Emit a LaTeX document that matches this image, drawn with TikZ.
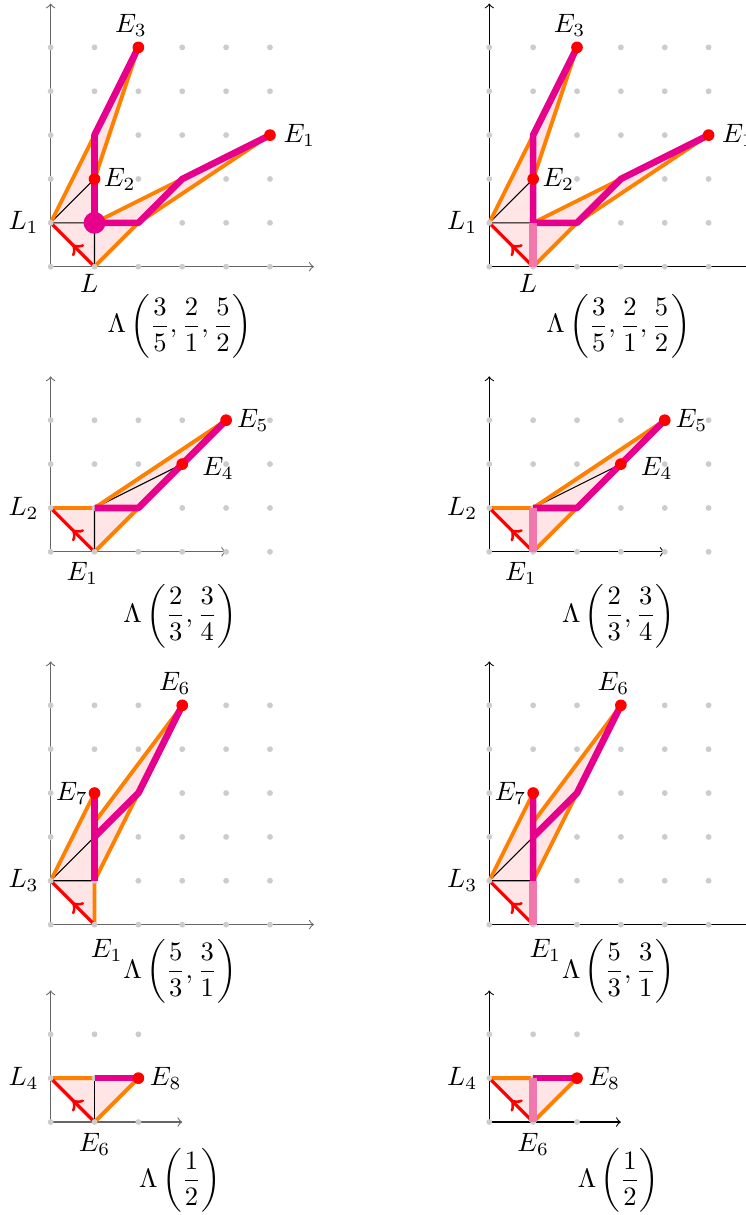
\documentclass[tikz,border=0pt]{standalone}
\usepackage{amsmath}
\usetikzlibrary{positioning, decorations.markings}

\definecolor{pathmag}{RGB}{230,0,140}
\definecolor{softpink}{RGB}{240,120,170}

\begin{document}
\begin{tikzpicture}[
        x=0.58cm, y=0.58cm,
        region/.style={fill=red!10},
        hull/.style={orange, line width=1.45pt, line join=round},
        spine/.style={pathmag, line width=2.5pt, line join=round},
        thinline/.style={black, line width=0.4pt},
        backedge/.style={red, line width=1.2pt, decoration={markings, mark=at position 0.5 with {\arrow{>}}}, postaction={decorate}},
        vert/.style={softpink, line width=2.9pt},
        axis/.style={->, line width=0.4pt},
        lattice/.style={fill=gray!40},
        endpt/.style={fill=red}
    ]
    \useasboundingbox (-1.155,-21.62) rectangle (15.85,6.08);

    \foreach \col/\axcol in {0/black!60, 10/black} {

    % first step
    \begin{scope}[shift={(\col,0)}]
        \coordinate (L) at (1,0);
        \coordinate (L1) at (0,1);
        \coordinate (C) at (1,1);
        \coordinate (E1) at (5,3);
        \coordinate (E2) at (1,2);
        \coordinate (E3) at (2,5);
        \coordinate (K1) at (1,3);
        \coordinate (K2) at (3,2);
        \coordinate (K3) at (2,1);
        \fill[region] (L1) -- (K1) -- (E3) -- (E2) -- (C) -- (K2) -- (E1) -- (K3) -- (L) -- cycle;
        \draw[axis, draw=\axcol] (0,0) -- (6,0);
        \draw[axis, draw=\axcol] (0,0) -- (0,6);
        \draw[thinline] (L1) -- (E2) (L1) -- (C) -- (L);
        \draw[hull] (L1) -- (K1) -- (E3) -- (E2) -- (C) -- (K2) -- (E1) -- (K3) -- (L);
        \draw[backedge] (L) -- (L1);
        \foreach \i in {0,...,5} \foreach \j in {0,...,5} \fill[lattice] (\i,\j) circle (1.1pt);
        \draw[spine] (E3) -- (K1) -- (C) -- (K3) -- (K2) -- (E1);
        \ifnum\col=0
            \fill[pathmag] (C) circle (4.1pt);
        \else
            \draw[vert] (L) -- (C);
        \fi
        \foreach \p in {E1,E2,E3} \fill[endpt] (\p) circle (2.2pt);
        \node (tL1) [left=1pt of L1] {$L_1$};
        \node (tL) [below=-0.5pt of L, xshift=-2pt] {$L$};
        \node (tE1) [right=1.6pt of E1] {$E_1$};
        \node (tE2) [right=0pt of E2] {$E_2$};
        \node (tE3) [above=0.5pt of E3, xshift=-2.8pt] {$E_3$};
        \node (cap1) at (2.95,-1.36) {$\displaystyle\Lambda\left(\frac{3}{5},\frac{2}{1},\frac{5}{2}\right)$};
    \end{scope}

    % second step
    \begin{scope}[shift={(\col,-6.5)}]
        \coordinate (E1) at (1,0);
        \coordinate (L2) at (0,1);
        \coordinate (C) at (1,1);
        \coordinate (E4) at (3,2);
        \coordinate (E5) at (4,3);
        \coordinate (K1) at (2,1);
        \fill[region] (L2) -- (C) -- (E5) -- (K1) -- (E1) -- cycle;
        \draw[axis, draw=\axcol] (0,0) -- (4,0);
        \draw[axis, draw=\axcol] (0,0) -- (0,4);
        \draw[thinline] (C) -- (E4) (C) -- (E1);
        \draw[hull] (L2) -- (C) -- (E5) -- (K1) -- (E1);
        \draw[backedge] (E1) -- (L2);
        \foreach \i in {0,...,5} \foreach \j in {0,...,3} \fill[lattice] (\i,\j) circle (1.1pt);
        \draw[spine] (C) -- (K1) -- (E5);
        \ifnum\col=10
            \draw[vert] (E1) -- (C);
        \fi
        \foreach \p in {E4,E5} \fill[endpt] (\p) circle (2.2pt);
        \node (tL2) [left=1pt of L2] {$L_2$};
        \node (tE1) [below=0.4pt of E1, xshift=-4.6pt] {$E_1$};
        \node (tE4) [right=4pt of E4, yshift=-1.5pt] {$E_4$};
        \node (tE5) [right=0.6pt of E5] {$E_5$};
        \node (cap2) at (2.95,-1.46) {$\displaystyle\Lambda\left(\frac{2}{3},\frac{3}{4}\right)$};
    \end{scope}

    % third step
    \begin{scope}[shift={(\col,-15)}]
        \coordinate (E1) at (1,0);
        \coordinate (L3) at (0,1);
        \coordinate (C) at (1,1);
        \coordinate (E6) at (3,5);
        \coordinate (E7) at (1,3);
        \coordinate (K1) at (1,2);
        \coordinate (K2) at (2,3);
        \coordinate (K3) at (1,7/3);
        \fill[region] (L3) -- (E7) -- (K3) -- (E6) -- (C) -- (E1) -- cycle;
        \draw[axis, draw=\axcol] (0,0) -- (6,0);
        \draw[axis, draw=\axcol] (0,0) -- (0,6);
        \draw[thinline] (L3) -- (K1) (L3) -- (C);
        \draw[hull] (L3) -- (E7) -- (K3) -- (E6) -- (C) -- (E1);
        \draw[backedge] (E1) -- (L3);
        \foreach \i in {0,...,5} \foreach \j in {0,...,5} \fill[lattice] (\i,\j) circle (1.1pt);
        \draw[spine] (E7) -- (C) (K1) -- (K2) -- (E6);
        \ifnum\col=10
            \draw[vert] (E1) -- (C);
        \fi
        \foreach \p in {E6,E7} \fill[endpt] (\p) circle (2.2pt);
        \node (tL3) [left=1pt of L3] {$L_3$};
        \node (tE1) [below=2pt of E1, xshift=4.6pt] {$E_1$};
        \node (tE6) [above=0.5pt of E6, xshift=-2.8pt] {$E_6$};
        \node (tE7) [left=-1pt of E7] {$E_7$};
        \node (cap3) at (2.95,-1.07) {$\displaystyle\Lambda\left(\frac{5}{3},\frac{3}{1}\right)$};
    \end{scope}

    % fourth step
    \begin{scope}[shift={(\col,-19.5)}]
        \coordinate (E6) at (1,0);
        \coordinate (L4) at (0,1);
        \coordinate (C) at (1,1);
        \coordinate (E8) at (2,1);
        \fill[region] (L4) -- (E8) -- (E6) -- cycle;
        \draw[axis, draw=\axcol] (0,0) -- (3,0);
        \draw[axis, draw=\axcol] (0,0) -- (0,3);
        \draw[thinline] (C) -- (E6);
        \draw[hull] (L4) -- (C) (E8) -- (E6);
        \draw[backedge] (E6) -- (L4);
        \foreach \i in {0,...,2} \foreach \j in {0,...,2} \fill[lattice] (\i,\j) circle (1.1pt);
        \draw[spine] (C) -- (E8);
        \ifnum\col=10
            \draw[vert] (E6) -- (C);
        \fi
        \fill[endpt] (E8) circle (2.2pt);
        \node (tL4) [left=1pt of L4] {$L_4$};
        \node (tE6) [below=0.9pt of E6] {$E_6$};
        \node (tE8) [right=0.8pt of E8] {$E_8$};
        \node (cap4) at (2.95,-1.33) {$\displaystyle\Lambda\left(\frac{1}{2}\right)$};
    \end{scope}
    }
\end{tikzpicture}
\end{document}
